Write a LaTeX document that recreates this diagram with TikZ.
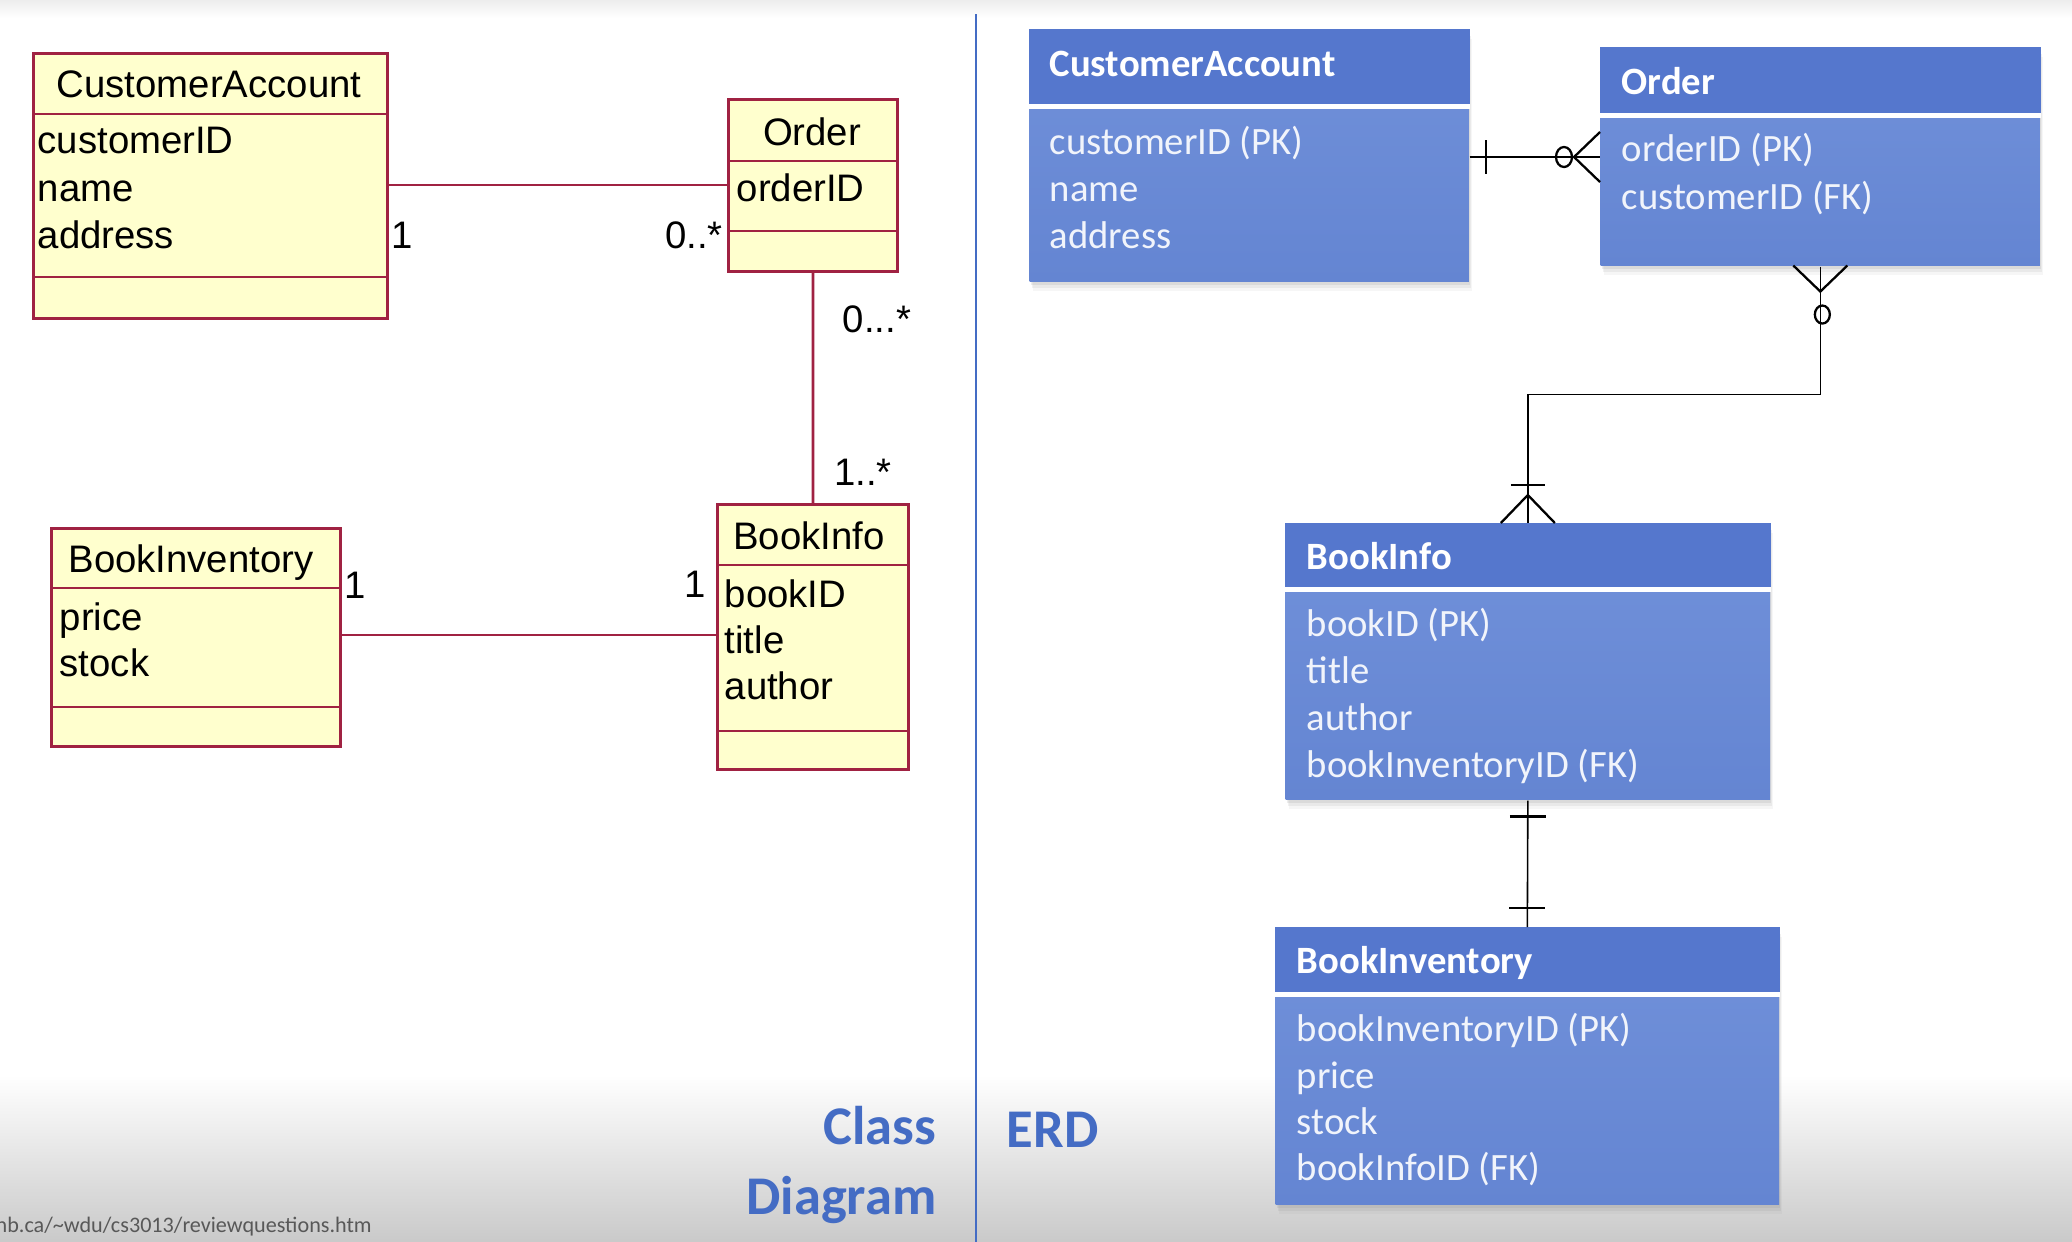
\documentclass[tikz,border=0pt]{standalone}
\usepackage{fontspec}
\setmainfont{Liberation Sans}
\newfontfamily\erdfont{Carlito}
\usetikzlibrary{shadows}

\definecolor{clsfill}{RGB}{255,255,206}
\definecolor{clsedge}{RGB}{160,34,66}
\definecolor{erhead}{RGB}{85,119,205}
\definecolor{erbodytop}{RGB}{113,145,218}
\definecolor{erbodybot}{RGB}{100,133,210}
\definecolor{slideblue}{RGB}{68,108,196}
\definecolor{urlgray}{RGB}{88,88,88}

\begin{document}
\begin{tikzpicture}[x=0.01cm, y=-0.01cm,
    classbox/.style={draw=clsedge, fill=clsfill, line width=0.8pt, inner sep=0pt, anchor=north west},
    assoc/.style={draw=clsedge, line width=0.75pt},
    umltxt/.style={font=\fontsize{10.9}{12}\selectfont, inner sep=0pt, text height=7.8pt, text depth=0pt},
    clsattr/.style={umltxt, anchor=west},
    erbox/.style={top color=erbodytop, bottom color=erbodybot, inner sep=0pt, anchor=north west,
        drop shadow={shadow xshift=0.01cm, shadow yshift=-0.03cm, opacity=0.14},
        drop shadow={shadow xshift=0.02cm, shadow yshift=-0.06cm, opacity=0.11},
        drop shadow={shadow xshift=0.03cm, shadow yshift=-0.095cm, opacity=0.07}},
    erhd/.style={fill=erhead},
    ersep/.style={draw=white, line width=1.45pt},
    ertitle/.style={font=\erdfont\bfseries\fontsize{11}{12}\selectfont, text=white, inner sep=0pt,
        text height=7.1pt, text depth=0pt, anchor=west},
    erattr/.style={font=\erdfont\fontsize{11}{12}\selectfont, text=white!92!erhead, inner sep=0pt,
        text height=7.1pt, text depth=0pt, anchor=west},
    erline/.style={draw=black, line width=0.45pt},
    ermark/.style={draw=black, line width=0.65pt},
    slidelbl/.style={font=\erdfont\bfseries\fontsize{15.5}{17}\selectfont, text=slideblue, inner sep=0pt,
        text height=10pt, text depth=0pt}
]
\useasboundingbox (0,0) rectangle (2072,1242);
\fill[white] (0,0) rectangle (2072,1242);
\shade[top color=black!7, bottom color=white] (0,0) rectangle (2072,18);
\shade[top color=white, bottom color=black!21] (0,1075) rectangle (2072,1242);

% class diagram
\node[classbox, minimum width=3.54cm, minimum height=2.65cm] (ca) at (32,52) {};
\draw[assoc] ([yshift=-0.62cm]ca.north west) -- ([yshift=-0.62cm]ca.north east);
\draw[assoc] ([yshift=-2.25cm]ca.north west) -- ([yshift=-2.25cm]ca.north east);
\node[umltxt] at (209,84) {CustomerAccount};
\node[clsattr] at (37,140) {customerID};
\node[clsattr] at (37,188) {name};
\node[clsattr] at (37,235) {address};

\node[classbox, minimum width=1.69cm, minimum height=1.72cm] (ord) at (727,98) {};
\draw[assoc] ([yshift=-0.63cm]ord.north west) -- ([yshift=-0.63cm]ord.north east);
\draw[assoc] ([yshift=-1.33cm]ord.north west) -- ([yshift=-1.33cm]ord.north east);
\node[umltxt] at (812,132) {Order};
\node[clsattr] at (736,188) {orderID};

\node[classbox, minimum width=2.89cm, minimum height=2.18cm] (binv) at (50,527) {};
\draw[assoc] ([yshift=-0.61cm]binv.north west) -- ([yshift=-0.61cm]binv.north east);
\draw[assoc] ([yshift=-1.80cm]binv.north west) -- ([yshift=-1.80cm]binv.north east);
\node[umltxt] at (191,559) {BookInventory};
\node[clsattr] at (59,617) {price};
\node[clsattr] at (59,663) {stock};

\node[classbox, minimum width=1.91cm, minimum height=2.65cm] (binfo) at (716,503) {};
\draw[assoc] ([yshift=-0.62cm]binfo.north west) -- ([yshift=-0.62cm]binfo.north east);
\draw[assoc] ([yshift=-2.28cm]binfo.north west) -- ([yshift=-2.28cm]binfo.north east);
\node[umltxt] at (809,536) {BookInfo};
\node[clsattr] at (724,594) {bookID};
\node[clsattr] at (724,640) {title};
\node[clsattr] at (724,686) {author};

\draw[assoc] (ca.east |- 0,185) -- (ord.west |- 0,185);
\draw[assoc] (ord.south) -- (binfo.north);
\draw[assoc] (binv.east |- 0,635) -- (binfo.west |- 0,635);
\node[umltxt] (m1) at (402,235) {1};
\node[umltxt] (m2) at (694,235) {0..*};
\node[umltxt] (m3) at (877,319) {0...*};
\node[umltxt] (m4) at (863,472) {1..*};
\node[umltxt] (m5) at (355,585) {1};
\node[umltxt] (m6) at (695,584) {1};

% divider
\draw[slideblue, line width=0.75pt] (976,14) -- (976,1242);

% ERD
\node[erbox, minimum width=4.39cm, minimum height=2.52cm] (eca) at (1029,29) {};
\fill[erhd] (eca.north west) rectangle ([yshift=-0.75cm]eca.north east);
\draw[ersep] ([yshift=-0.775cm]eca.north west) -- ([yshift=-0.775cm]eca.north east);
\node[ertitle] at (1049,64) {CustomerAccount};
\node[erattr] at (1049,142) {customerID (PK)};
\node[erattr] at (1049,189) {name};
\node[erattr] at (1049,236) {address};

\node[erbox, minimum width=4.39cm, minimum height=2.18cm] (eord) at (1600,47) {};
\fill[erhd] (eord.north west) rectangle ([yshift=-0.66cm]eord.north east);
\draw[ersep] ([yshift=-0.685cm]eord.north west) -- ([yshift=-0.685cm]eord.north east);
\node[ertitle] at (1621,82) {Order};
\node[erattr] at (1621,149) {orderID (PK)};
\node[erattr] at (1621,197) {customerID (FK)};

\node[erbox, minimum width=4.84cm, minimum height=2.76cm] (ebinfo) at (1285,523) {};
\fill[erhd] (ebinfo.north west) rectangle ([yshift=-0.64cm]ebinfo.north east);
\draw[ersep] ([yshift=-0.665cm]ebinfo.north west) -- ([yshift=-0.665cm]ebinfo.north east);
\node[ertitle] at (1306,557) {BookInfo};
\node[erattr] at (1306,624) {bookID (PK)};
\node[erattr] at (1306,671) {title};
\node[erattr] at (1306,718) {author};
\node[erattr] at (1306,765) {bookInventoryID (FK)};

\node[erbox, minimum width=5.03cm, minimum height=2.77cm] (ebinv) at (1275,927) {};
\fill[erhd] (ebinv.north west) rectangle ([yshift=-0.65cm]ebinv.north east);
\draw[ersep] ([yshift=-0.675cm]ebinv.north west) -- ([yshift=-0.675cm]ebinv.north east);
\node[ertitle] at (1296,961) {BookInventory};
\node[erattr] at (1296,1029) {bookInventoryID (PK)};
\node[erattr] at (1296,1076) {price};
\node[erattr] at (1296,1122) {stock};
\node[erattr] at (1296,1168) {bookInfoID (FK)};

% relationships
\coordinate (r1a) at (eca.east |- 0,157);
\coordinate (r1b) at (eord.west |- 0,157);
\draw[erline] (r1a) -- (r1b);
\draw[ermark] (r1a) ++(16,-17) -- ++(0,34);
\draw[ermark] (r1b) ++(0,-25) -- ++(-26,25) -- ++(26,25);
\draw[ermark] (r1b) ++(-36,0) ellipse [x radius=0.08cm, y radius=0.1cm];

\draw[erline] (eord.south) -- ++(0,128) -| (ebinfo.north);
\draw[ermark] (eord.south) ++(-27,-1) -- ++(27,26) -- ++(27,-26);
\draw[ermark] (eord.south) ++(2,48) ellipse [x radius=0.075cm, y radius=0.09cm];
\draw[ermark] (ebinfo.north) ++(-27,0) -- ++(27,-28) -- ++(27,28);
\draw[ermark] (ebinfo.north) ++(-17,-38) -- ++(34,0);

\draw[erline] (ebinfo.south) -- (ebinv.north);
\draw[ermark] (ebinfo.south) ++(-18,16) -- ++(36,0);
\draw[ermark] (ebinv.north) ++(-18,-19) -- ++(36,0);

% labels
\node[slidelbl, anchor=east] (lclass) at (937,1127) {Class};
\node[slidelbl, anchor=east] (ldiag) at (937,1197) {Diagram};
\node[slidelbl, anchor=west] (lerd) at (1006,1130) {ERD};
\node[font=\erdfont\fontsize{6.3}{7}\selectfont, text=urlgray, inner sep=0pt, anchor=west] (url)
    at (-5,1227) {nb.ca/\textasciitilde wdu/cs3013/reviewquestions.htm};
\end{tikzpicture}
\end{document}
